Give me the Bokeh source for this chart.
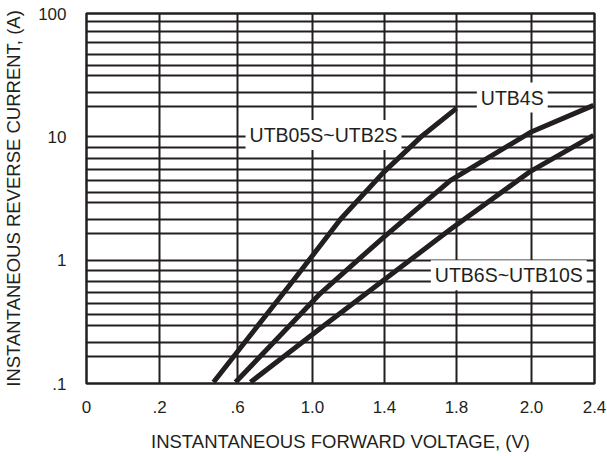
from bokeh.plotting import figure
from bokeh.models import FixedTicker, Label
from bokeh.embed import file_html
from bokeh.resources import INLINE

# x axis: evenly drawn grid columns carrying the original (uneven) voltage labels
x_tick_pos = [0, 1.006, 2.081, 3.114, 4.106, 5.098, 6.132, 7.0]
x_tick_labels = ["0", ".2", ".6", "1.0", "1.4", "1.8", "2.0", "2.4"]

y_major = [0.1, 1, 10, 100]
y_major_labels = [".1", "1", "10", "100"]
y_minor = [0.166, 0.215, 0.297, 0.365, 0.448, 0.549, 0.675, 0.828,
           1.66, 2.14, 2.94, 3.57, 4.39, 5.43, 6.62, 8.19,
           17.5, 22.7, 31.2, 37.9, 46.8, 57.8, 71.3, 86.7]

# curves (x in grid-column units, y in amperes)
a_x = [1.750, 2.301, 2.852, 3.500, 4.093, 4.602, 5.098]
a_y = [0.1025, 0.265, 0.687, 2.145, 5.155, 9.91, 17.0]
b_x = [2.053, 2.646, 3.224, 4.093, 5.016, 6.118, 6.986]
b_y = [0.1025, 0.237, 0.539, 1.533, 4.44, 10.88, 18.0]
c_x = [2.260, 2.742, 3.224, 4.093, 5.016, 6.118, 6.986]
c_y = [0.1025, 0.1696, 0.2806, 0.687, 1.780, 5.253, 10.28]

series_names = ["UTB05S~UTB2S", "UTB4S", "UTB6S~UTB10S"]
label_x = [3.266, 5.867, 5.819]
label_y = [10.34, 20.8, 0.755]

INK = "#231f20"
FONT = "Liberation Sans"

p = figure(width=607, height=456, y_axis_type="log",
           x_range=(0, 7), y_range=(0.1, 100),
           output_backend="svg", toolbar_location=None,
           min_border_left=86, min_border_right=13,
           min_border_top=13, min_border_bottom=73)
p.background_fill_color = "white"
p.border_fill_color = "white"
p.outline_line_color = INK
p.outline_line_width = 2.5

xt = FixedTicker(ticks=x_tick_pos)
yt = FixedTicker(ticks=y_major, minor_ticks=y_minor)
p.xaxis.ticker = xt
p.yaxis.ticker = yt
p.xgrid.ticker = xt
p.ygrid.ticker = yt
p.xaxis.major_label_overrides = {v: s for v, s in zip(x_tick_pos, x_tick_labels)}
p.yaxis.major_label_overrides = {v: s for v, s in zip(y_major, y_major_labels)}

for g in (p.xgrid, p.ygrid):
    g.grid_line_color = INK
    g.grid_line_width = 2
    g.grid_line_alpha = 1
p.ygrid.minor_grid_line_color = INK
p.ygrid.minor_grid_line_width = 2

for ax in (p.xaxis, p.yaxis):
    ax.axis_line_color = None
    ax.major_tick_line_color = None
    ax.minor_tick_line_color = None
    ax.major_tick_out = 0
    ax.minor_tick_out = 0
    ax.major_tick_in = 0
    ax.minor_tick_in = 0
    ax.major_label_text_font = FONT
    ax.major_label_text_font_size = "17px"
    ax.major_label_text_color = INK
    ax.axis_label_text_font = FONT
    ax.axis_label_text_font_size = "18.5px"
    ax.axis_label_text_font_style = "normal"
    ax.axis_label_text_color = INK

p.xaxis.major_label_standoff = 17
p.xaxis.axis_label_standoff = 15
p.yaxis.major_label_standoff = 20
p.yaxis.axis_label_standoff = 11
p.xaxis.axis_label = "INSTANTANEOUS FORWARD VOLTAGE, (V)"
p.yaxis.axis_label = "INSTANTANEOUS REVERSE CURRENT, (A)"

for xs, ys in ((a_x, a_y), (b_x, b_y), (c_x, c_y)):
    p.line(xs, ys, line_color=INK, line_width=5)

for name, lx, ly in zip(series_names, label_x, label_y):
    p.add_layout(Label(x=lx, y=ly, text=name, text_align="center",
                       text_baseline="middle", text_font=FONT,
                       text_font_size="19.5px", text_color=INK,
                       background_fill_color="white", background_fill_alpha=1,
                       padding=4))

open("out.html", "w").write(file_html(p, INLINE))
